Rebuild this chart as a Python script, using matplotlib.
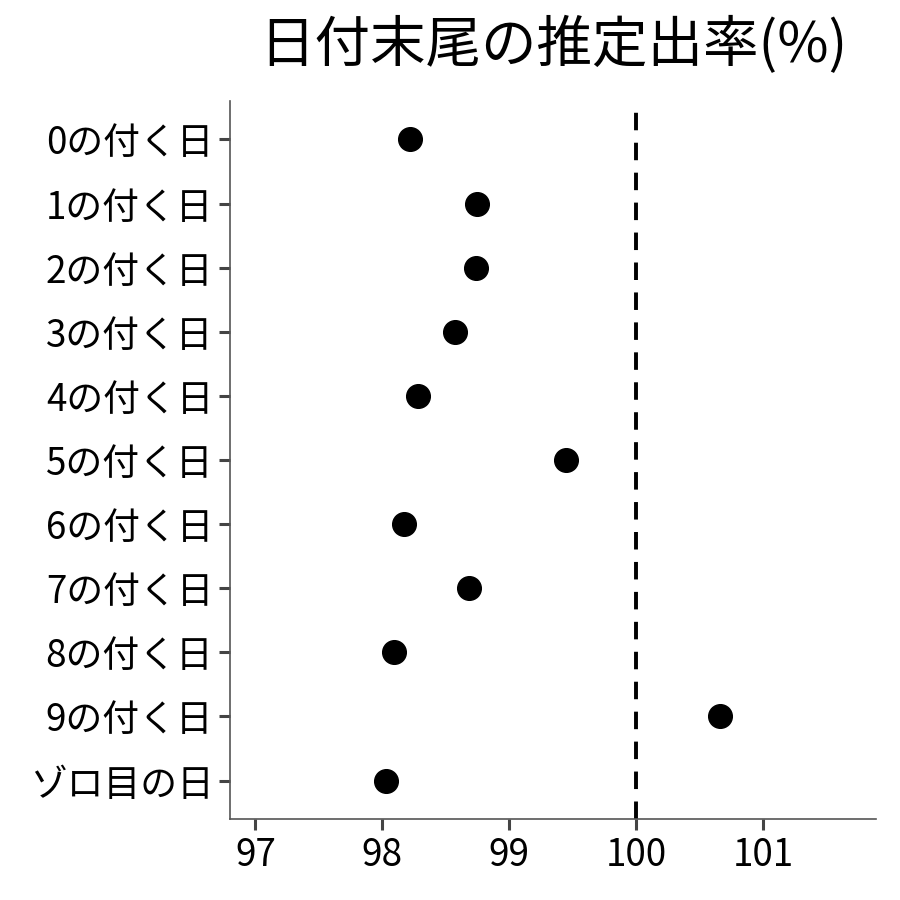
import matplotlib
matplotlib.use('Agg')
import matplotlib.pyplot as plt
import numpy as np

plt.rcParams['font.family'] = ['Noto Sans CJK JP', 'DejaVu Sans']

labels = ['0の付く日', '1の付く日', '2の付く日', '3の付く日', '4の付く日',
          '5の付く日', '6の付く日', '7の付く日', '8の付く日', '9の付く日',
          'ゾロ目の日']
rates = [98.22, 98.75, 98.74, 98.57, 98.28, 99.45, 98.17, 98.68, 98.09,
         100.66, 98.03]
xticks = [97, 98, 99, 100, 101]

fig = plt.figure(figsize=(9, 9), dpi=100)
ax = fig.add_axes([230 / 900, 1 - 819 / 900, 646 / 900, 718 / 900])

y = np.arange(len(labels))
ax.axvline(100, color='black', linestyle=(0, (4.5, 3.2)), linewidth=2.8, zorder=1)
ax.scatter(rates, y, s=290, color='black', zorder=3)

ax.set_yticks(y)
ax.set_yticklabels(labels, fontsize=26.5)
ax.set_xticks(xticks)
ax.set_xticklabels([str(t) for t in xticks], fontsize=26.5)
ax.set_xlim(96.80, 101.89)
ax.set_ylim(len(labels) - 0.4, -0.6)

for s in ['top', 'right']:
    ax.spines[s].set_visible(False)
for s in ['left', 'bottom']:
    ax.spines[s].set_color('#555555')
    ax.spines[s].set_linewidth(1.2)
ax.tick_params(axis='both', color='#444444', length=8, width=2.2, labelcolor='black')
ax.tick_params(axis='y', pad=4)
ax.tick_params(axis='x', pad=4)

fig.text(553 / 900, 1 - 46 / 900, '日付末尾の推定出率(%)', fontsize=40,
         ha='center', va='center')

fig.savefig('out.png', dpi=100, facecolor='white')
